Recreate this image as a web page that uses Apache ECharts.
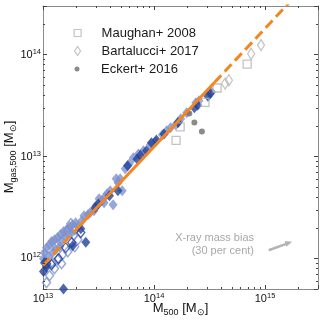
<!DOCTYPE html>
<html><head><meta charset="utf-8">
<script src="https://cdn.jsdelivr.net/npm/echarts@6/dist/echarts.min.js"></script>
<style>html,body{margin:0;padding:0;background:#fff}#c{width:324px;height:324px}</style>
</head><body><div id="c"></div>
<script>
// ---- data (M500 [Msun], Mgas,500 [Msun]) ----
const xRange = [1e13, 3e15];
const yRange = [5e11, 3e14];

const lightFilled = [
  [3.3e14,4.3e13],[2.54e14,3.52e13],[2.38e14,3.36e13],[1.97e14,2.68e13],[1.74e14,2.34e13],
  [1.67e14,2.19e13],[1.57e14,2.05e13],[1.41e14,1.91e13],[1.30e14,1.79e13],[1.19e14,1.63e13],
  [1.03e14,1.39e13],[9.29e13,1.30e13],[8.03e13,1.14e13],[7.23e13,1.06e13],[6.51e13,9.7e12],
  [5.99e13,8.47e12],[5.5e13,7.57e12],[4.96e13,6.04e12],[4.75e13,5.52e12],[4.56e13,6.04e12],
  [5.17e13,4.61e12],[4.28e13,3.36e12],[4.03e13,4.61e12],[3.78e13,4.31e12],[3.62e13,4.03e12],
  [3.55e13,3.52e12],[3.40e13,3.68e12],[3.2e13,3.85e12],[3.0e13,3.29e12],[2.88e13,2.94e12],
  [2.65e13,2.8e12],[2.54e13,2.68e12],[2.34e13,2.62e12],[2.24e13,2.34e12],
  [1.03e13,1.14e12],[1.076e13,1.27e12],[1.146e13,1.36e12],[1.195e13,1.46e12],[1.27e13,1.52e12],
  [1.355e13,1.60e12],[1.44e13,1.71e12],[1.535e13,1.83e12],[1.635e13,1.91e12],[1.74e13,2.05e12],
  [1.85e13,2.14e12],[1.97e13,2.24e12],[1.30e13,1.22e12],[1.41e13,1.30e12],[1.122e13,1.04e12],
  [1.22e13,1.14e12],[1.47e13,1.49e12],[1.60e13,1.63e12],[1.01e13,9.93e11],[2.06e13,2.05e12],
  [1.815e13,1.79e12]
];
const openLight = [
  [1.78e13,2.19e12],[1.93e13,1.91e12],[1.635e13,1.83e12],[1.89e13,1.67e12],[2.06e13,1.52e12],
  [1.93e13,1.30e12],[1.67e13,1.16e12],[1.50e13,1.09e12],[1.47e13,8.87e11],[1.27e13,7.93e11],
  [1.146e13,6.77e11],[1.076e13,5.78e11],[1.355e13,9.7e11],[1.22e13,9.07e11],[1.33e13,1.30e12]
];
const openDark = [
  [2.19e13,1.79e12],[1.815e13,1.43e12],[1.38e13,9.93e11],[1.195e13,8.67e11],[1.076e13,8.87e11],
  [1.60e13,1.27e12]
];
const darkFilled = [
  [3.21e14,4.15e13],[3.06e14,3.89e13],[2.47e14,3.19e13],[2.31e14,3.0e13],[1.64e14,2.14e13],
  [1.23e14,1.66e13],[1.05e14,1.45e13],[9.48e13,1.36e13],[8.55e13,1.14e13],[7.54e13,1.03e13],
  [7.03e13,9.45e12],[5.78e13,8.1e12],[4.73e13,4.61e12],[3.97e13,4.12e12],[3.15e13,3.41e12],
  [2.94e13,3.14e12],[2.19e13,1.95e12],[2.43e13,1.44e12],[1.85e13,1.33e12],[1.076e13,8.29e11],
  [1.03e13,9.07e11],[1.01e13,7.41e11],[1.53e13,5.0e11]
];
const maughan = [[6.9e14,8.05e13],[3.7e14,4.7e13],[2.88e14,3.4e13],[1.72e14,1.95e13],[1.58e14,1.44e13]];
const bartalucci = [[9.2e14,1.24e14],[7.5e14,1.02e14],[4.73e14,5.6e13],[4.37e14,5.2e13]];
const eckert = [[2.08e14,2.64e13],[2.31e14,2.15e13],[2.7e14,1.76e13]];

const fitLow  = [[1e13,8.5e11],[2.0e13,1.93e12]];
const fitMid  = [[2.0e13,1.93e12],[3.5e14,5.32e13]];
const fitHigh = [[3.5e14,5.32e13],[2e15,4.04e14]];
const biasArrow = [[1.08e15,1.2e12],[1.64e15,1.42e12]];

const xMinor = [2e13,3e13,4e13,5e13,6e13,7e13,8e13,9e13,2e14,3e14,4e14,5e14,6e14,7e14,8e14,9e14,2e15];
const yMinor = [6e11,7e11,8e11,9e11,2e12,3e12,4e12,5e12,6e12,7e12,8e12,9e12,
                2e13,3e13,4e13,5e13,6e13,7e13,8e13,9e13,2e14];

// ---- styling ----
const FONT = 'Liberation Sans, Arial, Helvetica, sans-serif';
const DARK = '#22429a', LIGHT = '#7d91cd', GREY = '#b4b4b4', ORANGE = '#f5861f';
const FRAME = '#8a8a8a', TICK = '#444';

function powLabel(v){
  const e = Math.round(Math.log10(v));
  if (Math.abs(Math.log10(v) - e) > 1e-6) return '';
  return '{b|10}{e|' + e + '}';
}
const labelRich = {
  b:{fontFamily:FONT,fontSize:11,color:'#111',lineHeight:14},
  e:{fontFamily:FONT,fontSize:7.5,color:'#111',verticalAlign:'top',lineHeight:14}
};
const nameRich = {
  m:{fontFamily:FONT,fontSize:13,color:'#111',lineHeight:18},
  s:{fontFamily:FONT,fontSize:9,color:'#111',verticalAlign:'bottom',lineHeight:18}
};
function baseAxis(pos, range, showLabel){
  return {
    type:'log', logBase:10, min:range[0], max:range[1], position:pos,
    axisLine:{show:true,onZero:false,lineStyle:{color:FRAME,width:1}},
    axisTick:{show:true,inside:true,length:4,lineStyle:{color:TICK,width:1}},
    minorTick:{show:false}, splitLine:{show:false},
    axisLabel: showLabel ? {show:true,formatter:powLabel,rich:labelRich,margin:3,showMinLabel:true,showMaxLabel:true}
                         : {show:false}
  };
}
const xBottom = Object.assign(baseAxis('bottom', xRange, true), {
  name:'{m|M}{s|500}{m| [M}{s|⊙}{m|]}', nameLocation:'middle', nameGap:10, nameMoveOverlap:false,
  nameTextStyle:{rich:nameRich}
});
const yLeft = Object.assign(baseAxis('left', yRange, true), {
  name:'{m|M}{s|gas,500}{m| [M}{s|⊙}{m|]}', nameLocation:'middle', nameGap:25, nameMoveOverlap:false,
  nameTextStyle:{rich:nameRich, padding:[0,19,0,0]}
});
yLeft.axisLabel.margin = 2;
const xTop = baseAxis('top', xRange, false);
const yRight = baseAxis('right', yRange, false);

function diamondSeries(name, data, fill, stroke, size, z){
  return {
    type:'scatter', name, data, symbol:'diamond', symbolSize:size, z,
    itemStyle: stroke ? {color:'rgba(0,0,0,0)',borderColor:stroke,borderWidth:1.4}
                      : {color:fill},
    emphasis:{disabled:true}, silent:true
  };
}
function tickSeries(values, isX){
  return {
    type:'custom', silent:true, clip:false, z:20,
    data: values.map(v => isX ? [v, yRange[0]] : [xRange[0], v]),
    renderItem(params, api){
      const cs = params.coordSys;
      const p = api.coord([api.value(0), api.value(1)]);
      const st = {stroke:TICK, lineWidth:1};
      if (isX){
        const x = Math.round(p[0]) + 0.5, b = cs.y + cs.height, t = cs.y;
        return {type:'group', children:[
          {type:'line', shape:{x1:x,y1:b,x2:x,y2:b-2}, style:st},
          {type:'line', shape:{x1:x,y1:t,x2:x,y2:t+2}, style:st}]};
      } else {
        const y = Math.round(p[1]) + 0.5, l = cs.x, r = cs.x + cs.width;
        return {type:'group', children:[
          {type:'line', shape:{x1:l,y1:y,x2:l+2,y2:y}, style:st},
          {type:'line', shape:{x1:r,y1:y,x2:r-2,y2:y}, style:st}]};
      }
    }
  };
}
function fitSeries(data, dashed){
  return {type:'line', data, showSymbol:false, symbol:'none', z:10, silent:true, clip:true,
    lineStyle:{color:ORANGE,width:3,type: dashed ? [10,5] : 'solid', cap:'butt'}};
}
// icon is drawn at the left of the item box; text pushed to x=101
function legendOf(name, top, icon, w, h, style){
  const left = 77 - w / 2;
  return {data:[{name, icon, itemStyle:style}], orient:'vertical', left, top, padding:0,
    itemWidth:w, itemHeight:h, selectedMode:false,
    textStyle:{fontFamily:FONT,fontSize:13,color:'#1a1a1a',lineHeight:16,
      padding:[0,0,0, 101 - (left + w + 5)]}};
}

const chart = echarts.init(document.getElementById('c'), null, {renderer:'canvas'});
chart.setOption({
  animation:false, backgroundColor:'#fff',
  grid:{left:43, top:6, width:275, height:283, containLabel:false, outerBoundsMode:'none'},
  xAxis:[xBottom, xTop],
  yAxis:[yLeft, yRight],
  legend:[
    legendOf('Maughan+ 2008', 25, 'path://M0,0h7v7h-7Z', 7, 7, {color:'rgba(0,0,0,0)',borderColor:GREY,borderWidth:1.2}),
    legendOf('Bartalucci+ 2017', 43, 'path://M0,0L3,4.5L0,9L-3,4.5Z', 6, 9, {color:'rgba(0,0,0,0)',borderColor:GREY,borderWidth:1.2}),
    legendOf('Eckert+ 2016', 61, 'circle', 5, 5, {color:'#6e6e6e'})
  ],
  series:[
    diamondSeries('light', lightFilled, LIGHT, null, [9,11], 2),
    diamondSeries('openLight', openLight, null, LIGHT, [8,10], 3),
    diamondSeries('openDark', openDark, null, DARK, [8,10], 4),
    diamondSeries('dark', darkFilled, DARK, null, [9,11], 5),
    {type:'scatter', name:'Maughan+ 2008', data:maughan, symbol:'rect', symbolSize:8, z:6, silent:true,
      itemStyle:{color:'rgba(0,0,0,0)',borderColor:GREY,borderWidth:1.3}},
    {type:'scatter', name:'Bartalucci+ 2017', data:bartalucci, symbol:'diamond', symbolSize:[7,11], z:6, silent:true,
      itemStyle:{color:'rgba(0,0,0,0)',borderColor:GREY,borderWidth:1.3}},
    {type:'scatter', name:'Eckert+ 2016', data:eckert, symbol:'circle', symbolSize:6, z:6, silent:true,
      itemStyle:{color:'#6e6e6e'}},
    fitSeries(fitLow, true), fitSeries(fitMid, false), fitSeries(fitHigh, true),
    {type:'line', data:[
        {value:biasArrow[0], symbol:'none'},
        {value:biasArrow[1], symbol:'triangle', symbolSize:[6,7], symbolRotate:-74}],
      showSymbol:true, z:8, silent:true,
      itemStyle:{color:GREY}, lineStyle:{color:GREY,width:2.5}},
    tickSeries(xMinor, true), tickSeries(yMinor, false)
  ],
  graphic:[
    {type:'text', x:254, y:231, silent:true,
      style:{text:'X-ray mass bias\n(30 per cent)', align:'right', verticalAlign:'top',
        font:'11px ' + FONT, fill:'#a8a8a8', lineHeight:13}}
  ]
});
</script></body></html>
